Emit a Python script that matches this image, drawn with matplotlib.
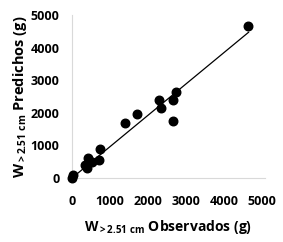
import matplotlib
matplotlib.use('Agg')
import matplotlib.pyplot as plt

# observed vs predicted weight, W > 2.51 cm (g)
observados = [0, 25, 350, 390, 420, 520, 710, 740, 1410, 1720,
              2300, 2340, 2670, 2670, 2740, 4630]
predichos = [0, 100, 390, 305, 610, 490, 560, 890, 1700, 1970,
             2380, 2140, 2400, 1760, 2650, 4670]
linea_x = [0, 4650]
linea_y = [0, 4470]
ticks = [0, 1000, 2000, 3000, 4000, 5000]

plt.rcParams['font.family'] = ['Open Sans', 'DejaVu Sans']
plt.rcParams['mathtext.default'] = 'regular'

fig = plt.figure(figsize=(2.83, 2.42), dpi=100)
ax = fig.add_axes([0.254, 0.264, 0.682, 0.674])

ax.plot(linea_x, linea_y, color='black', lw=0.9, zorder=2)
ax.scatter(observados, predichos, s=38, color='black', zorder=3, clip_on=False)

ax.set_xlim(0, 5080)
ax.set_ylim(0, 5000)
ax.set_xticks(ticks)
ax.set_yticks(ticks)
ax.tick_params(length=0, labelsize=9)
ax.tick_params(axis='y', pad=9)
ax.tick_params(axis='x', pad=12)
for lab in ax.get_xticklabels() + ax.get_yticklabels():
    lab.set_fontweight('bold')

for side in ['top', 'right']:
    ax.spines[side].set_visible(False)
for side in ['left', 'bottom']:
    ax.spines[side].set_color('#d9d9d9')

ax.set_xlabel(r'W$_{>2.51\ cm}$ Observados (g)', fontsize=10, fontweight='bold', labelpad=7)
ax.set_ylabel(r'W$_{>2.51\ cm}$ Predichos (g)', fontsize=10.5, fontweight='bold', labelpad=1)

fig.savefig('out.png', dpi=100)
